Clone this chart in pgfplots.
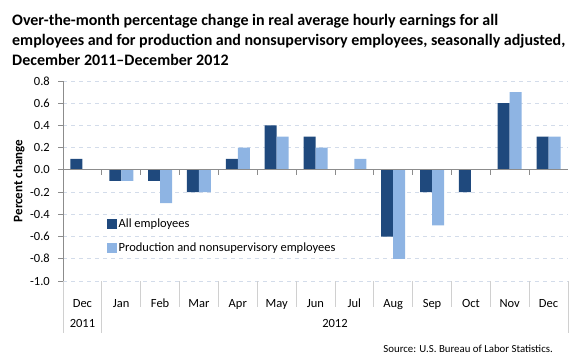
\documentclass[border=0pt]{standalone}
\usepackage{pgfplots}
\pgfplotsset{compat=1.18}
\usepackage{fontspec}
\setmainfont{Carlito}
\definecolor{darkb}{HTML}{1F497D}
\definecolor{lightb}{HTML}{8EB4E3}
\definecolor{axgray}{HTML}{8C8C8C}
\definecolor{sepgray}{HTML}{D0D0D0}
\definecolor{gridc}{HTML}{D3DCEA}
\begin{document}
\begin{tikzpicture}
\path[use as bounding box] (0,0) rectangle (580bp,360bp);
\begin{scope}[every node/.style={anchor=base west, inner sep=0pt, font=\fontsize{16bp}{19bp}\selectfont\bfseries}]
\node at (12bp,334bp) {Over-the-month percentage change in real average hourly earnings for all};
\node at (12bp,314bp) {employees and for production and nonsupervisory employees, seasonally adjusted,};
\node at (12bp,294bp) {December 2011--December 2012};
\end{scope}
\node[rotate=90, inner sep=0pt, font=\fontsize{13bp}{15bp}\selectfont\bfseries] at (19bp,179bp) {Percent change};
\node[anchor=base east, inner sep=0pt, font=\fontsize{10.8bp}{12bp}\selectfont] at (553bp,8bp) {Source: U.S. Bureau of Labor Statistics.};
\begin{axis}[
  at={(63bp,79bp)}, anchor=south west, scale only axis,
  width=505bp, height=200bp,
  xmin=-0.5, xmax=12.5, ymin=-1, ymax=0.8,
  clip=false,
  ybar=0pt, bar width=12bp,
  axis y line*=left, axis x line*=bottom,
  x axis line style={draw=none},
  y axis line style={axgray, line width=0.8bp},
  ytick={-1,-0.8,-0.6,-0.4,-0.2,0,0.2,0.4,0.6,0.8},
  yticklabels={-1.0,-0.8,-0.6,-0.4,-0.2,0.0,0.2,0.4,0.6,0.8},
  ytick style={axgray, line width=0.8bp},
  tick align=outside, major tick length=5bp,
  ymajorgrids, grid style={gridc, dash pattern=on 4bp off 4bp, line width=0.8bp},
  xtick={0,...,12},
  xticklabels={Dec,Jan,Feb,Mar,Apr,May,Jun,Jul,Aug,Sep,Oct,Nov,Dec},
  xtick style={draw=none},
  xticklabel style={anchor=base, yshift=-21bp},
  ticklabel style={font=\fontsize{12.5bp}{14bp}\selectfont},
  yticklabel style={anchor=east, inner sep=0pt, xshift=-8bp},
  legend cell align=left,
  legend style={draw=none, fill=none, at={(axis cs:0.62,-0.42)}, anchor=north west, inner sep=0pt, row sep=10bp, font=\fontsize{12.5bp}{14bp}\selectfont},
  legend image code/.code={\fill[#1] (0bp,-5bp) rectangle (10bp,5bp);},
]
\addplot[fill=darkb, draw=none] coordinates {(0,0.1) (1,-0.1) (2,-0.1) (3,-0.2) (4,0.1) (5,0.4) (6,0.3) (7,0) (8,-0.6) (9,-0.2) (10,-0.2) (11,0.6) (12,0.3)};
\addplot[fill=lightb, draw=none] coordinates {(0,0) (1,-0.1) (2,-0.3) (3,-0.2) (4,0.2) (5,0.3) (6,0.2) (7,0.1) (8,-0.8) (9,-0.5) (10,0) (11,0.7) (12,0.3)};
\legend{All employees, Production and nonsupervisory employees}
\draw[axgray, line width=0.8bp] (axis cs:-0.5,0) -- (axis cs:12.5,0);
\pgfplotsinvokeforeach{0.5,1.5,...,11.5}{\draw[axgray, line width=0.8bp] (axis cs:#1,0) -- ([yshift=-5bp]axis cs:#1,0);}
\pgfplotsinvokeforeach{1.5,2.5,...,11.5}{\draw[sepgray, line width=0.8bp] (axis cs:#1,-1) -- ([yshift=-26bp]axis cs:#1,-1);}
\pgfplotsinvokeforeach{-0.5,0.5,12.5}{\draw[sepgray, line width=0.8bp] (axis cs:#1,-1) -- ([yshift=-52bp]axis cs:#1,-1);}
\node[anchor=base, inner sep=0pt, font=\fontsize{12.5bp}{14bp}\selectfont] at ([yshift=-46bp]axis cs:0,-1) {2011};
\node[anchor=base, inner sep=0pt, font=\fontsize{12.5bp}{14bp}\selectfont] at ([yshift=-46bp]axis cs:6.5,-1) {2012};
\end{axis}
\end{tikzpicture}
\end{document}
